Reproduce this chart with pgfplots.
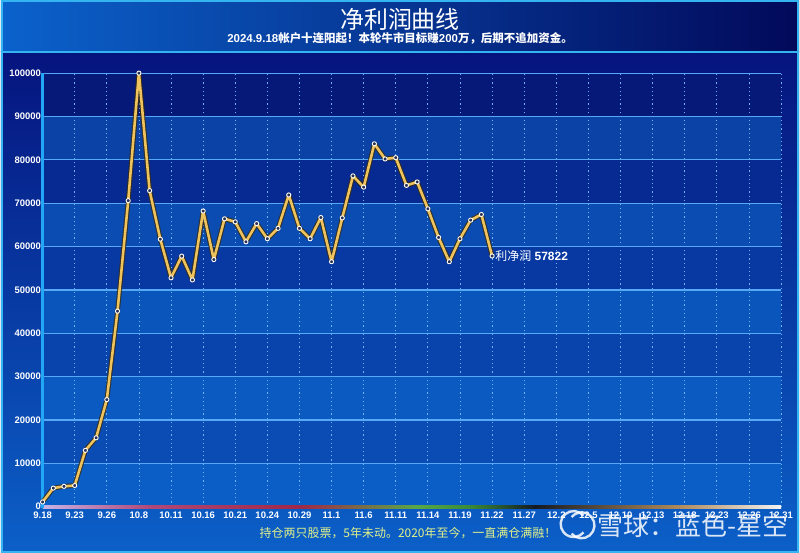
\documentclass[border=0pt]{standalone}
\usepackage{fontspec}
\setmainfont{Liberation Sans}
\newfontfamily\cjk{Noto Sans CJK SC}
\usepackage{pgfplots}
\usepackage{pgfplotstable}
\pgfplotsset{compat=1.18}

\definecolor{headL}{HTML}{0B62CC}
\definecolor{headM}{HTML}{0742A8}
\definecolor{headR}{HTML}{02095A}
\definecolor{bodyT}{HTML}{06147E}
\definecolor{bodyB}{HTML}{0B60C8}
\definecolor{frame}{HTML}{34B4F0}
\definecolor{bandA}{HTML}{0B5EC6}
\definecolor{bandB}{HTML}{0A4CB4}
\definecolor{bandC}{HTML}{0B5AC2}
\definecolor{bandD}{HTML}{0943AC}
\definecolor{bandE}{HTML}{0A55BC}
\definecolor{bandF}{HTML}{0838A2}
\definecolor{bandG}{HTML}{0A4CB2}
\definecolor{bandH}{HTML}{072A92}
\definecolor{bandI}{HTML}{0A42A6}
\definecolor{bandJ}{HTML}{061878}
\definecolor{hgrid}{HTML}{58A8F8}
\definecolor{vgrid}{HTML}{70B4F4}
\definecolor{yaxis}{HTML}{22A6F6}
\definecolor{gold}{HTML}{EEC25C}
\definecolor{goldedge}{HTML}{3A2C0C}
\definecolor{dotfill}{HTML}{2A3050}
\definecolor{note}{HTML}{E2F28A}
\definecolor{xa}{HTML}{C8B4E8}
\definecolor{xb}{HTML}{B04878}
\definecolor{xc}{HTML}{A02848}
\definecolor{xd}{HTML}{58A848}
\definecolor{xe}{HTML}{3A8A38}
\definecolor{xf}{HTML}{151A22}
\definecolor{xg}{HTML}{B08A5A}
\definecolor{xh}{HTML}{F4F4F4}

% net profit, one point per trading day from 9.18
\pgfplotstableread{
d v
0 1100
1 4300
2 4700
3 4900
4 13000
5 15900
6 24700
7 45100
8 70600
9 100000
10 72900
11 61700
12 52800
13 57800
14 52300
15 68200
16 57000
17 66400
18 65700
19 61100
20 65300
21 61800
22 64200
23 71900
24 64200
25 61800
26 66700
27 56500
28 66600
29 76300
30 73700
31 83700
32 80200
33 80500
34 74100
35 74900
36 68700
37 62100
38 56500
39 61800
40 66100
41 67400
42 57822
}\profit

\pgfplotsset{
    plotbox/.style={
        at={(41.7pt,46pt)}, anchor=south west,
        scale only axis,
        width=740.3pt, height=434.7pt,
        xmin=0, xmax=69,
        ymin=0, ymax=100000,
    },
}

\begin{document}
\begin{tikzpicture}
% background
\shade[top color=bodyT, bottom color=bodyB] (0,0) rectangle (800pt,502pt);
\shade[left color=headL, middle color=headM, right color=headR] (0,502pt) rectangle (800pt,554pt);
\draw[frame, line width=2pt] (0,502pt) -- (800pt,502pt);
\draw[frame, line width=2pt] (1pt,1pt) rectangle (799pt,553pt);

\node[white] at (400pt,535pt) {\cjk\fontsize{24}{24}\selectfont 净利润曲线};
\node[white] at (400pt,515pt) {\fontsize{11.5}{12}\selectfont\bfseries 2024.9.18{\cjk 帐户十连阳起！本轮牛市目标赚}200{\cjk 万，后期不追加资金。}};

% horizontal bands
\begin{axis}[plotbox, hide axis]
\fill[bandA] (axis cs:0,0) rectangle (axis cs:69,10000);
\fill[bandB] (axis cs:0,10000) rectangle (axis cs:69,20000);
\fill[bandC] (axis cs:0,20000) rectangle (axis cs:69,30000);
\fill[bandD] (axis cs:0,30000) rectangle (axis cs:69,40000);
\fill[bandE] (axis cs:0,40000) rectangle (axis cs:69,50000);
\fill[bandF] (axis cs:0,50000) rectangle (axis cs:69,60000);
\fill[bandG] (axis cs:0,60000) rectangle (axis cs:69,70000);
\fill[bandH] (axis cs:0,70000) rectangle (axis cs:69,80000);
\fill[bandI] (axis cs:0,80000) rectangle (axis cs:69,90000);
\fill[bandJ] (axis cs:0,90000) rectangle (axis cs:69,100000);
\end{axis}

\begin{axis}[
    plotbox,
    clip=false,
    axis line style={draw=none},
    major tick length=0pt,
    xtick={0,3,...,69},
    xticklabels={9.18,9.23,9.26,10.8,10.11,10.16,10.21,10.24,10.29,11.1,11.6,11.11,11.14,11.19,11.22,11.27,12.2,12.5,12.10,12.13,12.18,12.23,12.26,12.31},
    ytick={0,10000,...,100000},
    scaled y ticks=false,
    yticklabel style={/pgf/number format/fixed, /pgf/number format/1000 sep={}, /pgf/number format/assume math mode=true, inner sep=1.5pt},
    xticklabel style={inner sep=1pt, yshift=-4pt},
    tick label style={white, font=\fontsize{9.5}{10}\selectfont\bfseries},
    xmajorgrids, ymajorgrids,
    x grid style={vgrid, line width=0.8pt, dash pattern=on 1.2pt off 3pt},
    y grid style={hgrid, line width=1.2pt},
]
% coloured x axis line
\shade[left color=xa, right color=xb] (axis cs:0,-350) rectangle (axis cs:10,350);
\shade[left color=xb, right color=xc] (axis cs:10,-350) rectangle (axis cs:24,350);
\shade[left color=xc, right color=xd] (axis cs:24,-350) rectangle (axis cs:35,350);
\shade[left color=xd, right color=xe] (axis cs:35,-350) rectangle (axis cs:40,350);
\shade[left color=xe, right color=xf] (axis cs:40,-350) rectangle (axis cs:46,350);
\shade[left color=xf, right color=xg] (axis cs:46,-350) rectangle (axis cs:59.5,350);
\shade[left color=xg, right color=xh] (axis cs:59.5,-350) rectangle (axis cs:69,350);
\draw[yaxis, line width=3pt] (axis cs:0,-300) -- (axis cs:0,100000);

\addplot[goldedge, line width=4.8pt, opacity=0.8, line join=round] table[x=d, y=v] {\profit};
\addplot[gold, line width=2.6pt, line join=round,
    mark=*, mark size=2.1pt,
    mark options={draw=white, fill=dotfill, line width=0.9pt}] table[x=d, y=v] {\profit};
\node[white, anchor=west, inner sep=1pt] at (axis cs:42.2,57822)
    {\fontsize{12}{12}\selectfont{\cjk 利净润} \bfseries 57822};
\end{axis}

\node[note] at (408pt,20pt) {\cjk\fontsize{12}{12}\selectfont 持仓两只股票，5年未动。2020年至今，一直满仓满融！};

% watermark
\begin{scope}[opacity=0.85]
\draw[white, line width=2.4pt] (584pt,37pt) arc (40:320:13pt);
\draw[white, line width=2.4pt] (572pt,19pt) arc (220:500:13pt);
\node[white, anchor=west, inner sep=0pt] at (598pt,27pt) {\cjk\fontsize{26}{26}\selectfont 雪球：蓝色-星空};
\end{scope}
\end{tikzpicture}
\end{document}
